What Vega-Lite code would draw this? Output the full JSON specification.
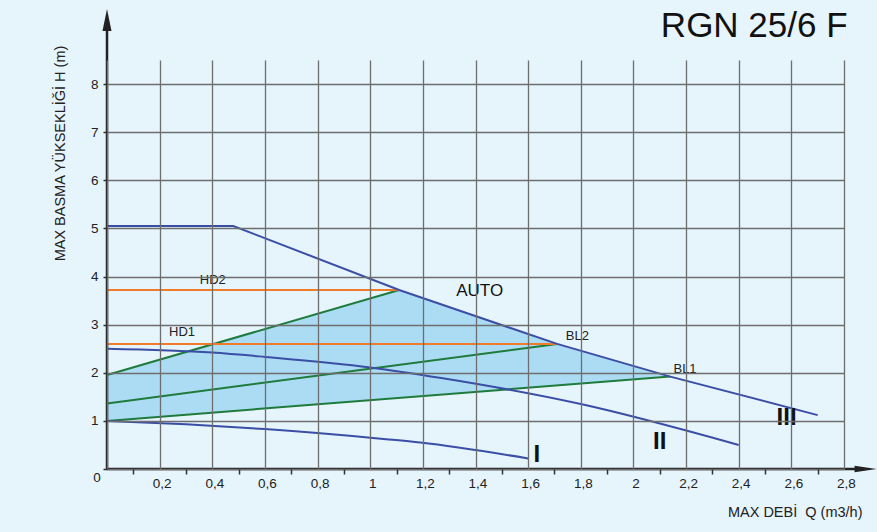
{
  "$schema": "https://vega.github.io/schema/vega-lite/v6.json",
  "width": 737,
  "height": 409,
  "autosize": "none",
  "padding": {"left": 107, "top": 60, "right": 33, "bottom": 63},
  "background": "#e6f4fc",
  "config": {"view": {"stroke": null}, "font": "Liberation Sans"},
  "title": {"text": "RGN 25/6 F", "anchor": "end", "fontSize": 35, "fontWeight": "normal", "font": "Liberation Sans", "color": "#111111", "baseline": "bottom", "offset": -36, "dx": -29, "dy": 34},
  "datasets": {
    "fill": [
      {"x": 0, "top": 1.955, "bot": 1.0},
      {"x": 1.11, "top": 3.72, "bot": 1.477},
      {"x": 1.71, "top": 2.6, "bot": 1.735},
      {"x": 2.14, "top": 1.92, "bot": 1.92}
    ],
    "curves": [
      {"series": "III", "x": 0, "y": 5.05},
      {"series": "III", "x": 0.48, "y": 5.05},
      {"series": "III", "x": 1.11, "y": 3.72},
      {"series": "III", "x": 1.71, "y": 2.6},
      {"series": "III", "x": 2.14, "y": 1.92},
      {"series": "III", "x": 2.7, "y": 1.12},
      {"series": "II", "x": 0, "y": 2.5},
      {"series": "II", "x": 0.4, "y": 2.42},
      {"series": "II", "x": 0.6, "y": 2.33},
      {"series": "II", "x": 1.0, "y": 2.11},
      {"series": "II", "x": 1.27, "y": 1.89},
      {"series": "II", "x": 1.8, "y": 1.35},
      {"series": "II", "x": 2.4, "y": 0.5},
      {"series": "I", "x": 0, "y": 1.0},
      {"series": "I", "x": 0.3, "y": 0.93},
      {"series": "I", "x": 0.6, "y": 0.83},
      {"series": "I", "x": 1.06, "y": 0.62},
      {"series": "I", "x": 1.19, "y": 0.55},
      {"series": "I", "x": 1.6, "y": 0.22}
    ],
    "straight": [
      {"series": "G1", "x": 0, "y": 1.955},
      {"series": "G1", "x": 1.11, "y": 3.72},
      {"series": "G2", "x": 0, "y": 1.36},
      {"series": "G2", "x": 1.71, "y": 2.6},
      {"series": "G3", "x": 0, "y": 1.0},
      {"series": "G3", "x": 2.14, "y": 1.92},
      {"series": "HD1", "x": 0, "y": 2.6},
      {"series": "HD1", "x": 1.71, "y": 2.6},
      {"series": "HD2", "x": 0, "y": 3.72},
      {"series": "HD2", "x": 1.11, "y": 3.72}
    ],
    "labels": [
      {"group": "small", "label": "HD2", "x": 0.402, "y": 3.93},
      {"group": "small", "label": "HD1", "x": 0.285, "y": 2.84},
      {"group": "small", "label": "BL2", "x": 1.787, "y": 2.76},
      {"group": "small", "label": "BL1", "x": 2.196, "y": 2.07},
      {"group": "auto", "label": "AUTO", "x": 1.416, "y": 3.69},
      {"group": "roman", "label": "I", "x": 1.633, "y": 0.285},
      {"group": "roman", "label": "II", "x": 2.1, "y": 0.56},
      {"group": "roman", "label": "III", "x": 2.582, "y": 1.06}
    ],
    "axes": [
      {"x": 0, "x2": 2.86, "y": 0, "y2": 0},
      {"x": 0, "x2": 0, "y": 0, "y2": 9.2}
    ],
    "arrows": [
      {"dir": "x", "x": 2.882, "y": 0},
      {"dir": "y", "x": 0, "y": 9.33}
    ],
    "zero": [{"label": "0", "x": 0, "y": 0}]
  },
  "layer": [
    {
      "layer": [
        {
          "data": {"name": "fill"},
          "mark": {"type": "area", "color": "#acdcf4", "opacity": 1},
          "encoding": {
            "x": {"field": "x", "type": "quantitative", "scale": {"domain": [0, 2.8], "nice": false},
              "axis": {
                "values": [0, 0.2, 0.4, 0.6, 0.8, 1, 1.2, 1.4, 1.6, 1.8, 2, 2.2, 2.4, 2.6, 2.8],
                "grid": true, "gridColor": "#6e6e6e", "gridWidth": 1.3, "gridOpacity": 1,
                "ticks": false, "domain": false, "zindex": 1,
                "labelExpr": "datum.value === 0 ? '' : replace(format(datum.value, '.1~f'), '.', ',')",
                "labelFontSize": 13.5, "labelColor": "#222222", "labelPadding": 7, "labelOffset": 2, "labelFlush": false,
                "title": "MAX DEBİ\u00a0 Q (m3/h)", "titleFontSize": 14.5, "titleFontWeight": "normal", "titleColor": "#222222",
                "titleX": 755, "titleY": 47, "titleAlign": "right", "titleBaseline": "alphabetic"
              }},
            "y": {"field": "top", "type": "quantitative", "scale": {"domain": [0, 8.5], "nice": false},
              "axis": {
                "values": [0, 0.5, 1, 1.5, 2, 2.5, 3, 3.5, 4, 4.5, 5, 5.5, 6, 6.5, 7, 7.5, 8, 8.5],
                "grid": true, "gridColor": "#6e6e6e", "gridWidth": 1.3, "gridOpacity": 1,
                "ticks": true, "tickSize": 4, "tickColor": "#333333", "tickWidth": 1.5, "domain": false, "zindex": 1,
                "labelExpr": "datum.value % 1 === 0 && datum.value > 0 ? datum.label : ''",
                "labelFontSize": 13.5, "labelColor": "#222222", "labelPadding": 5,
                "title": "MAX BASMA YÜKSEKLİĞİ H (m)", "titleFontSize": 14.5, "titleFontWeight": "normal", "titleColor": "#222222",
                "titleX": -47, "titleY": 93, "titleAlign": "center", "titleBaseline": "middle", "titleAngle": -90
              }},
            "y2": {"field": "bot"}
          }
        },
        {
          "data": {"name": "straight"},
          "mark": {"type": "line", "strokeWidth": 2},
          "encoding": {
            "x": {"field": "x", "type": "quantitative"},
            "y": {"field": "y", "type": "quantitative"},
            "detail": {"field": "series"},
            "color": {"field": "series", "type": "nominal", "legend": null,
              "scale": {"domain": ["G1", "G2", "G3", "HD1", "HD2"], "range": ["#1e7b3c", "#1e7b3c", "#1e7b3c", "#ef7b2b", "#ef7b2b"]}}
          }
        },
        {
          "data": {"name": "curves"},
          "transform": [{"filter": "datum.series === 'III'"}],
          "mark": {"type": "line", "strokeWidth": 2, "color": "#3b4ea6"},
          "encoding": {
            "x": {"field": "x", "type": "quantitative"},
            "y": {"field": "y", "type": "quantitative"}
          }
        },
        {
          "data": {"name": "curves"},
          "transform": [{"filter": "datum.series !== 'III'"}],
          "mark": {"type": "line", "strokeWidth": 2, "color": "#3b4ea6", "interpolate": "monotone"},
          "encoding": {
            "x": {"field": "x", "type": "quantitative"},
            "y": {"field": "y", "type": "quantitative"},
            "detail": {"field": "series"}
          }
        },
        {
          "data": {"name": "axes"},
          "mark": {"type": "rule", "color": "#222222", "strokeWidth": 2.5},
          "encoding": {
            "x": {"field": "x", "type": "quantitative"},
            "x2": {"field": "x2"},
            "y": {"field": "y", "type": "quantitative"},
            "y2": {"field": "y2"}
          }
        },
        {
          "data": {"name": "arrows"},
          "transform": [{"filter": "datum.dir === 'x'"}],
          "mark": {"type": "point", "shape": "M1,0L-1,-0.3L-1,0.3Z", "filled": true, "size": 484, "color": "#222222", "opacity": 1},
          "encoding": {
            "x": {"field": "x", "type": "quantitative"},
            "y": {"field": "y", "type": "quantitative"}
          }
        },
        {
          "data": {"name": "arrows"},
          "transform": [{"filter": "datum.dir === 'y'"}],
          "mark": {"type": "point", "shape": "M0,-1L0.41,1L-0.41,1Z", "filled": true, "size": 484, "color": "#222222", "opacity": 1},
          "encoding": {
            "x": {"field": "x", "type": "quantitative"},
            "y": {"field": "y", "type": "quantitative"}
          }
        },
        {
          "data": {"name": "labels"},
          "transform": [{"filter": "datum.group === 'small'"}],
          "mark": {"type": "text", "fontSize": 13, "color": "#222222", "align": "center", "baseline": "middle"},
          "encoding": {
            "x": {"field": "x", "type": "quantitative"},
            "y": {"field": "y", "type": "quantitative"},
            "text": {"field": "label"}
          }
        },
        {
          "data": {"name": "labels"},
          "transform": [{"filter": "datum.group === 'auto'"}],
          "mark": {"type": "text", "fontSize": 17, "color": "#111111", "align": "center", "baseline": "middle"},
          "encoding": {
            "x": {"field": "x", "type": "quantitative"},
            "y": {"field": "y", "type": "quantitative"},
            "text": {"field": "label"}
          }
        },
        {
          "data": {"name": "labels"},
          "transform": [{"filter": "datum.group === 'roman'"}],
          "mark": {"type": "text", "fontSize": 24, "fontWeight": "bold", "color": "#111111", "align": "center", "baseline": "middle"},
          "encoding": {
            "x": {"field": "x", "type": "quantitative"},
            "y": {"field": "y", "type": "quantitative"},
            "text": {"field": "label"}
          }
        }
      ]
    },
    {
      "data": {"name": "zero"},
      "mark": {"type": "text", "fontSize": 13.5, "color": "#222222", "align": "center", "baseline": "middle", "dx": -10, "dy": 9},
      "encoding": {
        "x": {"field": "x", "type": "quantitative", "scale": {"domain": [0, 2.8], "nice": false},
          "axis": {
            "orient": "bottom",
            "values": [0.1, 0.3, 0.5, 0.7, 0.9, 1.1, 1.3, 1.5, 1.7, 1.9, 2.1, 2.3, 2.5, 2.7],
            "grid": false, "domain": false, "labels": false, "title": null,
            "ticks": true, "tickSize": 5, "tickWidth": 1.5, "tickColor": "#333333", "zindex": 1
          }},
        "y": {"field": "y", "type": "quantitative"},
        "text": {"field": "label"}
      }
    }
  ],
  "resolve": {"scale": {"x": "independent"}}
}
